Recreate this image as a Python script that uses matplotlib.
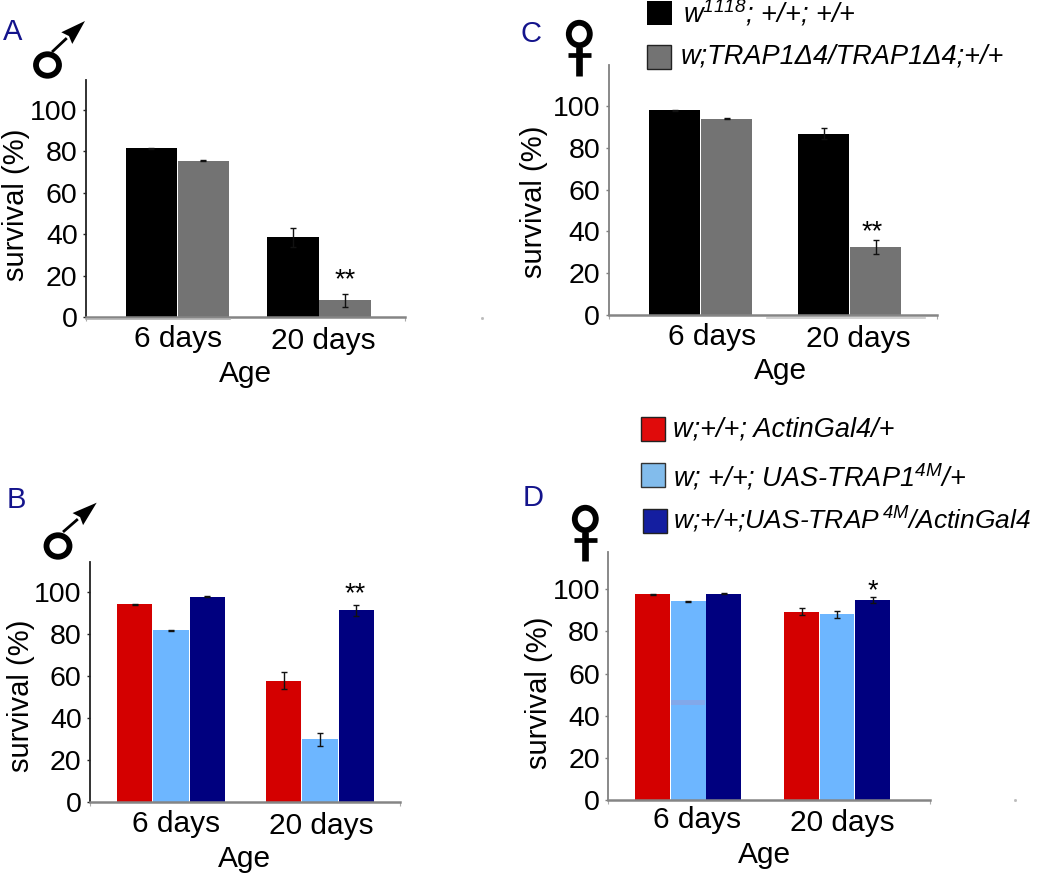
import numpy as np
import matplotlib
matplotlib.use('Agg')
import matplotlib.pyplot as plt
from matplotlib.patches import Ellipse, Polygon, Rectangle
from matplotlib.transforms import Affine2D, blended_transform_factory

plt.rcParams['font.family'] = ['Liberation Sans', 'DejaVu Sans']
plt.rcParams['mathtext.fontset'] = 'custom'
plt.rcParams['mathtext.rm'] = 'Liberation Sans:italic'
plt.rcParams['mathtext.it'] = 'Liberation Sans:italic'
plt.rcParams['mathtext.default'] = 'it'

figW, figH = 1050, 874

ageLabels = ['6 days', '20 days']
yTicks = [0, 20, 40, 60, 80, 100]

# Survival values, one list per genotype: [6 days, 20 days].
aControl = [81.5, 38.5]
aControlErr = [0.3, 4.6]
aMutant = [75.5, 8.0]
aMutantErr = [0.3, 3.2]

cControl = [98.0, 86.7]
cControlErr = [0.2, 2.7]
cMutant = [94.0, 32.4]
cMutantErr = [0.2, 3.3]

bGal4 = [94.2, 57.8]
bGal4Err = [0.3, 4.2]
bUas = [81.8, 29.8]
bUasErr = [0.3, 3.1]
bRescue = [97.8, 91.4]
bRescueErr = [0.3, 2.6]

dGal4 = [97.6, 89.4]
dGal4Err = [0.2, 1.8]
dUas = [94.3, 88.1]
dUasErr = [0.2, 1.8]
dRescue = [98.0, 94.9]
dRescueErr = [0.2, 1.3]

black, gray = '#000000', '#737373'
red, lightBlue, navy = '#d40000', '#6db6ff', '#00007f'
letterColor = '#14148c'


def DrawPanel(fig, left, right, top, bottom, scale, series, errors, colors, centers,
              width, step, tickX, tickBase, ageX, ageBase, labelX, labelY, star,
              spineColor):
    ax = fig.add_axes([left/figW, (figH-bottom)/figH, (right-left)/figW, (bottom-top)/figH])
    ax.set_xlim(0, right-left)
    ax.set_ylim(0, (bottom-top)/scale)
    n = len(series)
    for i in range(n):
        x = [c-left+step*(i-(n-1)/2) for c in centers]
        ax.bar(x, series[i], width=width, color=colors[i], linewidth=0, zorder=2)
        ax.errorbar(x, series[i], yerr=errors[i], fmt='none', ecolor='#111111',
                    elinewidth=1, capsize=2, capthick=1, zorder=3)
    # Significance stars sit over the last bar of the second group.
    starX = centers[1]-left+step*((n-1)/2)+star[2]
    ax.text(starX, star[1], star[0], ha='center', va='baseline', fontsize=19.5, zorder=4)

    for side in ['top', 'right']:
        ax.spines[side].set_visible(False)
    ax.spines['left'].set_color(spineColor)
    ax.spines['left'].set_linewidth(1.3)
    ax.spines['bottom'].set_color('#858585')
    ax.spines['bottom'].set_linewidth(1.8)
    ax.set_yticks(yTicks)
    ax.tick_params(axis='y', length=2, width=1, pad=4, labelsize=20.5, color=spineColor)
    ax.set_xticks([t-left for t in tickX])
    ax.set_xticklabels(ageLabels)
    ax.tick_params(axis='x', length=0, labelsize=21.5)
    for lab, base in zip(ax.get_xticklabels(), tickBase):
        lab.set_va('baseline')
        lab.set_transform(blended_transform_factory(ax.transData, Affine2D().translate(0, figH-base)))
    ax.set_xticks([0, right-left], minor=True)
    ax.tick_params(axis='x', which='minor', length=3, width=0.8, color='#aaaaaa')

    ax.set_ylabel('survival (%)', fontsize=21, rotation=90, va='center', ha='center')
    ax.yaxis.set_label_coords((labelX-left)/(right-left), (bottom-labelY)/(bottom-top))
    ax.set_xlabel('Age', fontsize=21.5, va='baseline', ha='center')
    ax.xaxis.set_label_coords((ageX-left)/(right-left), (bottom-ageBase)/(bottom-top))
    return ax


def DrawMale(ov, cx, cy, startX, startY, tipX, tipY):
    ov.add_patch(Ellipse((cx, cy), 23, 21.5, fill=False, ec='black', lw=4.2))
    d = np.array([tipX-startX, tipY-startY], dtype=float)
    d /= np.hypot(d[0], d[1])
    perp = np.array([-d[1], d[0]])
    tip = np.array([tipX, tipY], dtype=float)
    back = tip-d*25
    ov.plot([startX, back[0]], [startY, back[1]], color='black', lw=2, solid_capstyle='butt')
    ov.add_patch(Polygon([tip, back+perp*8, tip-d*22, back-perp*8], closed=True, fc='black', ec='none'))


def DrawFemale(ov, cx, cy, bottomY, barY):
    ov.add_patch(Ellipse((cx, cy), 21, 22.5, fill=False, ec='black', lw=4.2))
    ov.plot([cx, cx], [cy+13, bottomY], color='black', lw=4.8, solid_capstyle='butt')
    ov.plot([cx-11.5, cx+11.5], [barY, barY], color='black', lw=3.4, solid_capstyle='butt')


fig = plt.figure(figsize=(figW/100, figH/100), dpi=100)

DrawPanel(fig, 86, 405, 80, 317, 2.07, [aControl, aMutant], [aControlErr, aMutantErr],
          [black, gray], [177.4, 318.9], 51.5, 52, [178, 323.7], [346.7, 349],
          246, 381.7, 16, 205, ('**', 14.5, 0), '#222222')
DrawPanel(fig, 608.5, 937, 65, 315, 2.09, [cControl, cMutant], [cControlErr, cMutantErr],
          [black, gray], [700.5, 849.5], 51.5, 52, [712.3, 858], [345, 346.7],
          780, 379.3, 534, 202, ('**', 36.4, -3), '#808080')
DrawPanel(fig, 90, 400, 562.3, 802, 2.1, [bGal4, bUas, bRescue], [bGal4Err, bUasErr, bRescueErr],
          [red, lightBlue, navy], [170.9, 320], 35.3, 36.4, [176, 321.7], [832, 834],
          244, 866.7, 21, 696, ('**', 95.4, -1), '#222222')
axD = DrawPanel(fig, 608.3, 930, 552.3, 800, 2.107, [dGal4, dUas, dRescue], [dGal4Err, dUasErr, dRescueErr],
          [red, lightBlue, navy], [688.2, 837], 34.8, 35.5, [696.7, 842.3], [828.3, 830.7],
          764.8, 863.3, 539, 693, ('*', 95.7, 0), '#808080')
# Faint band left inside the light blue bar of panel D.
axD.add_patch(Rectangle((671-608.3, 45.2), 34, 2.4, fc='#82a8ea', ec='none', zorder=2.5))

# Overlay in picture pixels for letters, sex symbols and legends.
ov = fig.add_axes([0, 0, 1, 1], facecolor='none')
ov.set_xlim(0, figW)
ov.set_ylim(figH, 0)
ov.axis('off')

for letter, x, y in [('A', 2.5, 40.5), ('C', 520.5, 42.5), ('B', 7, 508.5), ('D', 523, 506.5)]:
    ov.text(x, y, letter, color=letterColor, fontsize=21, ha='left', va='baseline')

DrawMale(ov, 47.5, 65, 52, 52, 85, 21)
DrawMale(ov, 58, 546, 63, 532, 96.7, 502.7)
DrawFemale(ov, 579.3, 34, 76, 54.5)
DrawFemale(ov, 585.3, 519, 560.7, 540)

legendRows = [
    (647, 0.5, 24.5, black, 'none', r'w$^{1118}$; +/+; +/+', 683, 22.7, 19.5),
    (646.5, 44.5, 24, gray, '#222222', r'w;TRAP1Δ4/TRAP1Δ4;+/+', 680.7, 63.3, 19.5),
    (640.5, 416.5, 24, '#e00b0b', '#222222', r'w;+/+; ActinGal4/+', 673.3, 436, 19.5),
    (640.5, 463, 24, '#82bcec', '#333333', r'w; +/+; UAS-TRAP1$^{4M}$/+', 673.3, 486, 19.5),
    (642.5, 509, 24, '#141ea0', '#222222', r'w;+/+;UAS-TRAP$\,^{4M}$/ActinGal4', 673.3, 529.3, 19),
]
for sx, sy, size, col, edge, label, tx, ty, fs in legendRows:
    ov.add_patch(Rectangle((sx, sy), size, size, fc=col, ec=edge, lw=1))
    ov.text(tx, ty, label, fontsize=fs, ha='left', va='baseline', style='italic')

# Scan leftovers of the original figure: doubled baselines and two specks.
ov.plot([766.7, 925], [318, 318], color='#c8c8c8', lw=1.2)
ov.plot([86, 230], [318.5, 318.5], color='#b0b0b0', lw=1.2)
ov.plot([482, 1015], [318, 800], ls='none', marker='s', ms=1, color='#bbbbbb')

fig.savefig('out.png', dpi=100)
